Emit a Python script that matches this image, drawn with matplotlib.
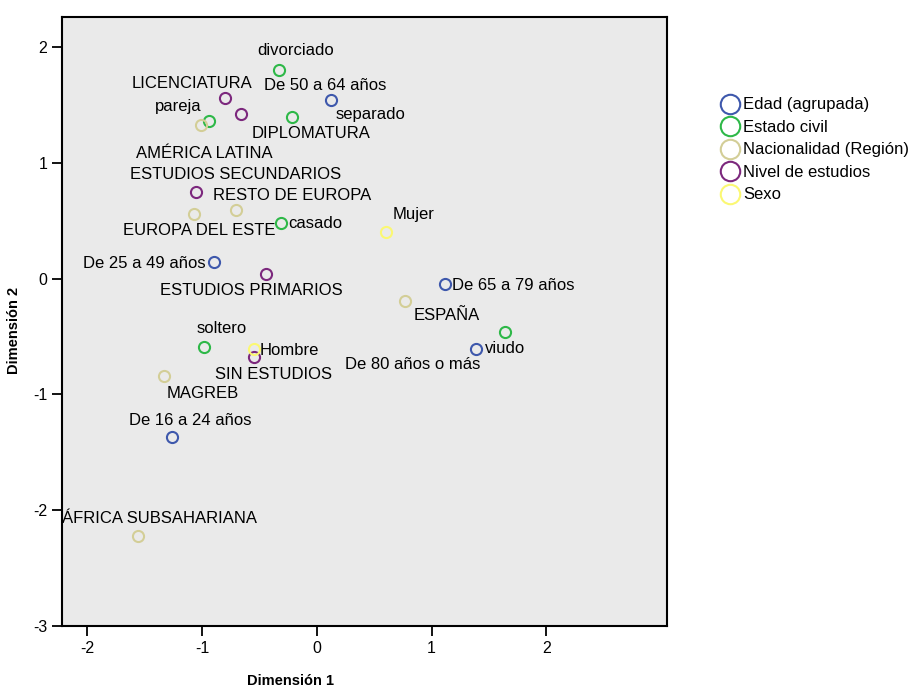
import matplotlib
matplotlib.use("Agg")
import matplotlib.pyplot as plt

plt.rcParams['font.family'] = ['Liberation Sans', 'DejaVu Sans']
plt.rcParams['axes.unicode_minus'] = False

# coordenadas de las categorias (Dimensión 1, Dimensión 2)
edad_labels = ['De 50 a 64 años', 'De 25 a 49 años', 'De 65 a 79 años',
               'De 80 años o más', 'De 16 a 24 años']
edad_x = [0.12, -0.90, 1.12, 1.39, -1.26]
edad_y = [1.54, 0.14, -0.05, -0.61, -1.37]

civil_labels = ['divorciado', 'separado', 'pareja', 'casado', 'soltero', 'viudo']
civil_x = [-0.33, -0.22, -0.94, -0.31, -0.98, 1.64]
civil_y = [1.80, 1.40, 1.36, 0.48, -0.59, -0.46]

nac_labels = ['AMÉRICA LATINA', 'EUROPA DEL ESTE', 'RESTO DE EUROPA',
              'ESPAÑA', 'MAGREB', 'ÁFRICA SUBSAHARIANA']
nac_x = [-1.01, -1.07, -0.70, 0.77, -1.33, -1.56]
nac_y = [1.33, 0.56, 0.59, -0.19, -0.84, -2.22]

estudios_labels = ['LICENCIATURA', 'DIPLOMATURA', 'ESTUDIOS SECUNDARIOS',
                   'ESTUDIOS PRIMARIOS', 'SIN ESTUDIOS']
estudios_x = [-0.80, -0.66, -1.05, -0.44, -0.55]
estudios_y = [1.56, 1.42, 0.75, 0.04, -0.68]

sexo_labels = ['Mujer', 'Hombre']
sexo_x = [0.60, -0.55]
sexo_y = [0.40, -0.61]

series = [
    ('Edad (agrupada)', edad_labels, edad_x, edad_y, '#3e58ac'),
    ('Estado civil', civil_labels, civil_x, civil_y, '#2eb848'),
    ('Nacionalidad (Región)', nac_labels, nac_x, nac_y, '#d3ce97'),
    ('Nivel de estudios', estudios_labels, estudios_x, estudios_y, '#7c287d'),
    ('Sexo', sexo_labels, sexo_x, sexo_y, '#fbf873'),
]

# label offsets in pixels (text centre relative to point)
offsets = {
    'divorciado': (17, 20), 'De 50 a 64 años': (-5, 15), 'separado': (79, 2),
    'LICENCIATURA': (-33, 15), 'pareja': (-31, 15), 'DIPLOMATURA': (70, -19),
    'AMÉRICA LATINA': (3, -29), 'ESTUDIOS SECUNDARIOS': (39, 17),
    'RESTO DE EUROPA': (56, 15), 'EUROPA DEL ESTE': (5, -17), 'casado': (34, 0),
    'Mujer': (28, 18), 'De 25 a 49 años': (-69, -1), 'ESTUDIOS PRIMARIOS': (-15, -16),
    'De 65 a 79 años': (68, -1), 'ESPAÑA': (41, -15), 'soltero': (17, 18),
    'Hombre': (36, -1), 'SIN ESTUDIOS': (20, -17), 'De 80 años o más': (-64, -15),
    'viudo': (0, -17), 'MAGREB': (39, -18), 'De 16 a 24 años': (18, 17),
    'ÁFRICA SUBSAHARIANA': (22, 17),
}

fig = plt.figure(figsize=(9.09, 6.87), dpi=100)
ax = fig.add_axes([62 / 909, 61 / 687, 605 / 909, 609 / 687])
ax.set_facecolor('#eaeaea')

for name, labels, xs, ys, color in series:
    ax.plot(xs, ys, 'o', ms=8, mfc='none', mec=color, mew=1.5, ls='none', label=name)
    for lab, x, y in zip(labels, xs, ys):
        dx, dy = offsets[lab]
        ax.annotate(lab, (x, y), xytext=(dx, dy), textcoords='offset pixels',
                    ha='center', va='center', fontsize=12, color='black')

ax.set_xlim(-2.22, 3.05)
ax.set_ylim(-3.0, 2.26)
ax.set_xticks([-2, -1, 0, 1, 2])
ax.set_yticks([-3, -2, -1, 0, 1, 2])
ax.tick_params(length=7, width=1.3, labelsize=11.5, direction='out')
for sp in ax.spines.values():
    sp.set_linewidth(1.5)

ax.set_xlabel('Dimensión 1', fontsize=10.5, fontweight='bold')
ax.set_ylabel('Dimensión 2', fontsize=10.5, fontweight='bold')
ax.xaxis.set_label_coords(0.377, -0.078)
ax.yaxis.set_label_coords(-0.068, 0.486)

fig.legend(loc='upper left', bbox_to_anchor=(712 / 909, 1 - 89 / 687), frameon=False,
           fontsize=12, markerscale=1.75, handletextpad=0.15, labelspacing=0.45,
           handlelength=1.2, borderpad=0)

fig.savefig('out.png', dpi=100)
